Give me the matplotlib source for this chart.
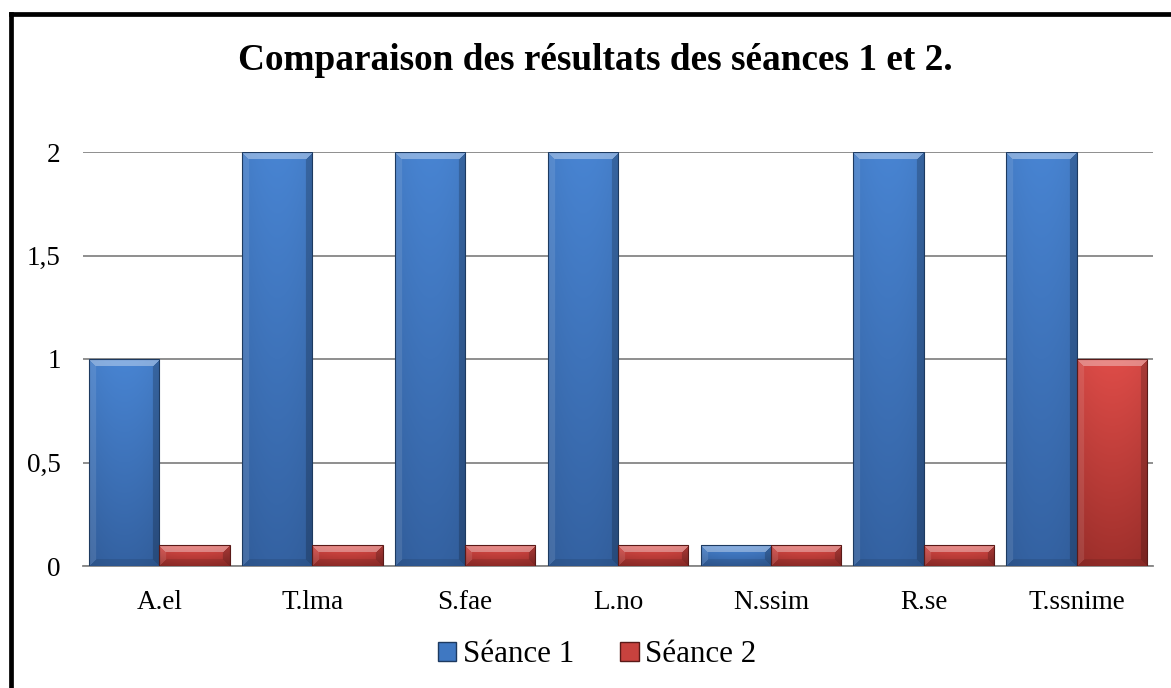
import numpy as np
import matplotlib
matplotlib.use('Agg')
import matplotlib.pyplot as plt
from matplotlib.patches import Patch
from matplotlib.lines import Line2D

categories = ['A.el', 'T.lma', 'S.fae', 'L.no', 'N.ssim', 'R.se', 'T.ssnime']
seance1 = [1, 2, 2, 2, 0.1, 2, 2]
seance2 = [0.1, 0.1, 0.1, 0.1, 0.1, 0.1, 1]
series_names = ['Séance 1', 'Séance 2']
yticks = [0, 0.5, 1, 1.5, 2]

plt.rcParams['font.family'] = ['Liberation Serif', 'DejaVu Serif']

fig = plt.figure(figsize=(11.71, 6.88), dpi=100)
ax = fig.add_axes([83 / 1171, 1 - 566 / 688, 1070 / 1171, 414 / 688])

x = np.arange(len(categories))
w = 0.46

# pixels per data unit
px_x = 1070 / len(categories)
px_y = 414 / 2


def bevel_image(wp, hp, top, bottom, b=7):
    top = np.array(top) / 255.0
    bottom = np.array(bottom) / 255.0
    yy = np.linspace(0, 1, hp)[:, None, None]
    img = top * (1 - yy) + bottom * yy
    img = np.broadcast_to(img, (hp, wp, 3)).copy()
    # soft horizontal shading
    xx = np.linspace(-1, 1, wp)[None, :, None]
    img = img * (1 - 0.06 * xx ** 2)
    ii = np.arange(hp)[:, None]
    jj = np.arange(wp)[None, :]
    dt = np.broadcast_to(ii, (hp, wp))
    db = np.broadcast_to(hp - 1 - ii, (hp, wp))
    dl = np.broadcast_to(jj, (hp, wp))
    dr = np.broadcast_to(wp - 1 - jj, (hp, wp))
    d = np.stack([dt, dl, dr, db])
    which = np.argmin(d, axis=0)
    dmin = d.min(axis=0)
    mask = dmin < b
    white = np.ones(3)
    out = img.copy()
    m = mask & (which == 0)
    out[m] = img[m] * 0.65 + white * 0.35
    m = mask & (which == 1)
    out[m] = img[m] * 0.9 + white * 0.1
    m = mask & (which == 2)
    out[m] = img[m] * 0.8
    m = mask & (which == 3)
    out[m] = img[m] * 0.9
    return np.clip(out, 0, 1)


def draw_series(xs, vals, top, bottom, edge):
    for xc, v in zip(xs, vals):
        wp = max(int(round(w * px_x)), 2)
        hp = max(int(round(v * px_y)), 2)
        b = min(7, hp // 2)
        img = bevel_image(wp, hp, top, bottom, b=b)
        ax.imshow(img, extent=(xc - w / 2, xc + w / 2, 0, v), aspect='auto',
                  interpolation='bilinear', zorder=3)
    ax.bar(xs, vals, w, color='none', edgecolor=edge, linewidth=0.8, zorder=4)


draw_series(x - w / 2, seance1, (72, 132, 210), (52, 98, 162), '#1d3a60')
draw_series(x + w / 2, seance2, (222, 76, 72), (160, 48, 44), '#5a1a18')

ax.set_xlim(-0.5, len(categories) - 0.5)
ax.set_ylim(0, 2)

ax.set_yticks(yticks)
ax.set_yticklabels([('%g' % v).replace('.', ',') for v in yticks], fontsize=19.5)
ax.set_xticks(x)
ax.set_xticklabels(categories, fontsize=19.5)
ax.tick_params(axis='y', length=0, pad=16)
ax.tick_params(axis='x', length=0, pad=17)

ax.yaxis.grid(True, color='#868686', linewidth=1.3, zorder=1)
ax.set_axisbelow(True)
for s in ['top', 'right', 'left']:
    ax.spines[s].set_visible(False)
ax.spines['bottom'].set_color('#868686')
ax.spines['bottom'].set_linewidth(1.3)

fig.text(595 / 1171, 1 - 70 / 688, 'Comparaison des résultats des séances 1 et 2.',
         ha='center', va='baseline', fontsize=26.8, fontweight='bold')

handles = [Patch(facecolor='#3f78c2', edgecolor='#1d3a60', label=series_names[0]),
           Patch(facecolor='#c8423e', edgecolor='#5a1a18', label=series_names[1])]
fig.legend(handles=handles, loc='center', bbox_to_anchor=(597 / 1171, 1 - 655 / 688),
           ncol=2, frameon=False, fontsize=22.3, handlelength=0.6, handleheight=0.6,
           handletextpad=0.2, columnspacing=1.5)

# chart frame (cropped on the right and bottom)
fig.add_artist(Line2D([10.5 / 1171, 10.5 / 1171], [0, 1 - 14 / 688], color='black',
                      linewidth=3.4, solid_capstyle='projecting'))
fig.add_artist(Line2D([10.5 / 1171, 1], [1 - 14 / 688, 1 - 14 / 688], color='black',
                      linewidth=3.4, solid_capstyle='projecting'))

fig.savefig('out.png', dpi=100)
